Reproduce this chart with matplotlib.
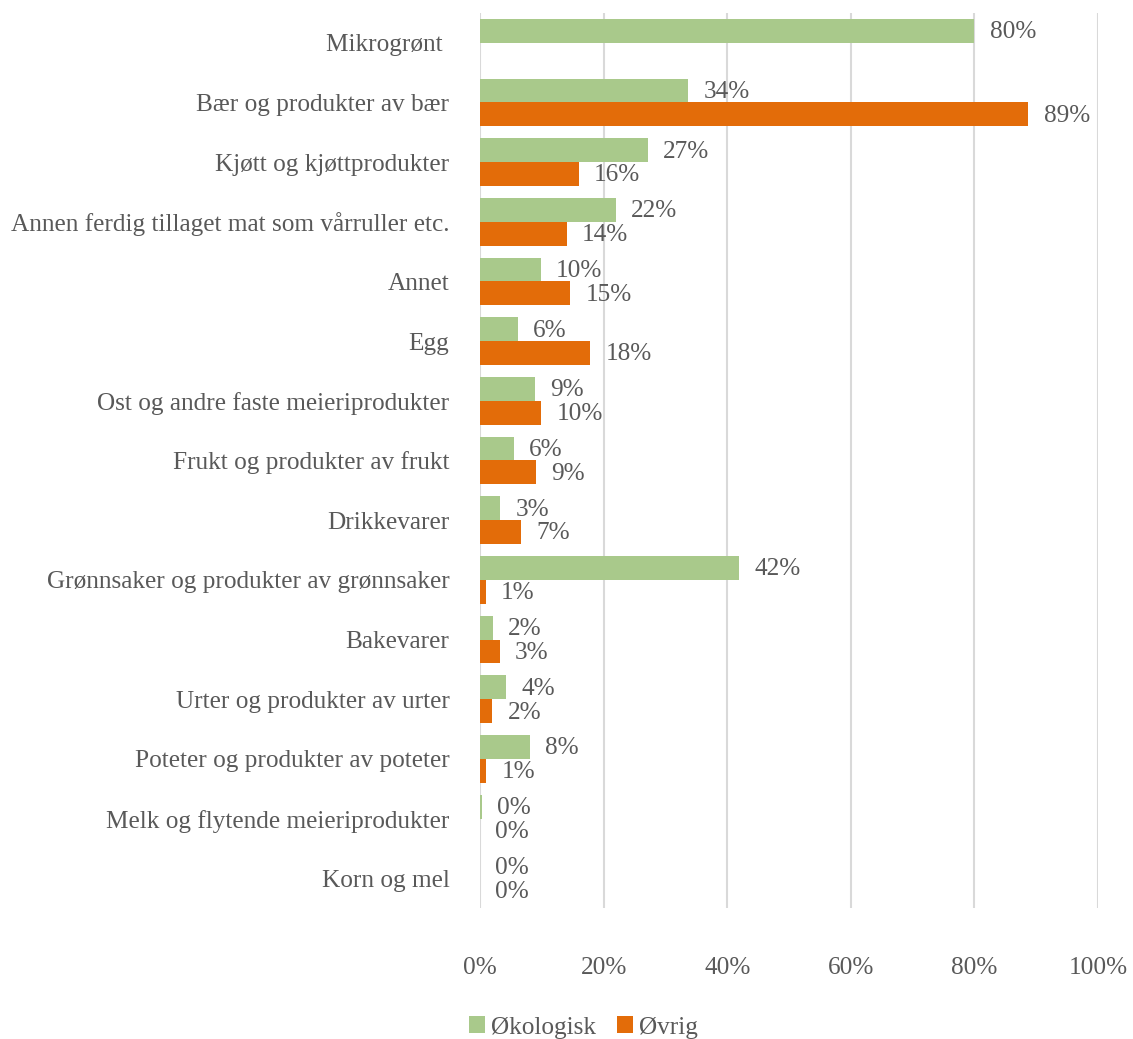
import numpy as np
import matplotlib
matplotlib.use('Agg')
import matplotlib.pyplot as plt

# Data (percent)
categories = ['Mikrogrønt ', 'Bær og produkter av bær', 'Kjøtt og kjøttprodukter',
              'Annen ferdig tillaget mat som vårruller etc.', 'Annet', 'Egg',
              'Ost og andre faste meieriprodukter', 'Frukt og produkter av frukt',
              'Drikkevarer', 'Grønnsaker og produkter av grønnsaker', 'Bakevarer',
              'Urter og produkter av urter', 'Poteter og produkter av poteter',
              'Melk og flytende meieriprodukter', 'Korn og mel']
okologisk = [80.0, 33.7, 27.1, 22.0, 9.8, 6.1, 8.9, 5.5, 3.3, 41.9, 2.1, 4.2, 8.1, 0.3, 0.0]
ovrig = [np.nan, 88.7, 16.0, 14.0, 14.6, 17.8, 9.9, 9.1, 6.6, 0.9, 3.2, 2.0, 1.0, 0.0, 0.0]
xticks = [0, 20, 40, 60, 80, 100]

green = '#A9C98B'
orange = '#E36C09'
textc = '#595959'
fs = 18.2

plt.rcParams['font.family'] = ['Liberation Serif', 'DejaVu Serif']

fig = plt.figure(figsize=(11.33, 10.39), dpi=100)
ax = fig.add_axes([0.4237, 0.126, 0.5455, 0.8616])

y = np.arange(len(categories))
h = 0.4
b1 = ax.barh(y - h / 2, okologisk, height=h, color=green, label='Økologisk', zorder=3)
b2 = ax.barh(y + h / 2, ovrig, height=h, color=orange, label='Øvrig', zorder=3)

# value labels at the end of each bar
for bars, vals in [(b1, okologisk), (b2, ovrig)]:
    for rect, v in zip(bars, vals):
        if np.isnan(v):
            continue
        ax.annotate(f'{round(v)}%', (v, rect.get_y() + rect.get_height() / 2),
                    xytext=(11, -1), textcoords='offset points',
                    ha='left', va='center', fontsize=fs, color=textc)

ax.set_xlim(0, 100)
ax.set_ylim(len(categories) - 0.5, -0.5)
ax.set_yticks(y)
ax.set_yticklabels(categories)
ax.set_xticks(xticks)
ax.set_xticklabels([f'{t}%' for t in xticks])
ax.tick_params(axis='y', length=0, pad=22, labelsize=fs, labelcolor=textc)
ax.tick_params(axis='x', length=0, pad=35, labelsize=fs, labelcolor=textc)
ax.grid(axis='x', color='#D9D9D9', linewidth=1.5, zorder=0)
for s in ax.spines.values():
    s.set_visible(False)

fig.legend(handles=[b1, b2], loc='center', bbox_to_anchor=(0.515, 0.011), ncol=2,
           frameon=False, fontsize=fs, labelcolor=textc, handlelength=0.65,
           handleheight=0.65, handletextpad=0.25, columnspacing=0.8)

fig.savefig('out.png', dpi=100)
